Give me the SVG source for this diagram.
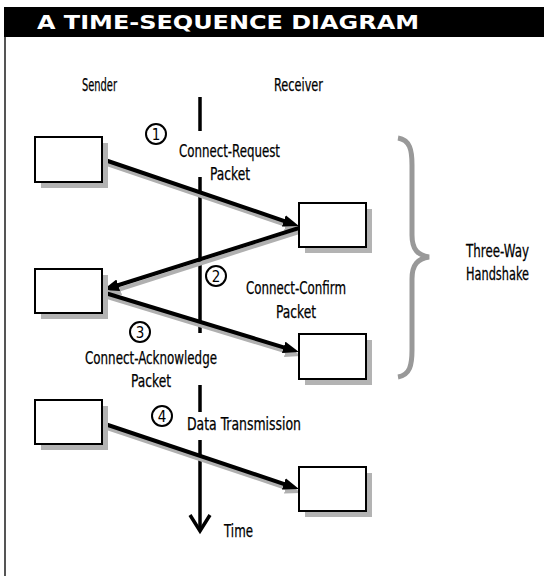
<svg xmlns="http://www.w3.org/2000/svg" width="544" height="576" viewBox="0 0 544 576">
<style>
.t{font-family:"DejaVu Sans Condensed","DejaVu Sans","Liberation Sans",sans-serif;font-stretch:condensed;font-size:17px;fill:#000;stroke:#000;stroke-width:0.25}
.d{font-family:"DejaVu Sans Condensed","DejaVu Sans","Liberation Sans",sans-serif;font-size:15px;fill:#000;text-anchor:middle}
.box{fill:#fff;stroke:#000;stroke-width:2}
.sh{fill:#b3b3b3}
.ln{stroke:#000;stroke-width:4;fill:none}
.lns{stroke:#b0b0b0;stroke-width:4;fill:none}
.num{fill:#fff;stroke:#000;stroke-width:2}
.tl{stroke:#000;stroke-width:3.5;fill:none}
</style>
<defs>
<marker id="ah" viewBox="0 0 16 12" markerWidth="16" markerHeight="12" markerUnits="userSpaceOnUse" refX="6" refY="6" orient="auto"><path d="M0,0 L16,6 L0,12 z" fill="#000"/></marker>
<marker id="ahs" viewBox="0 0 16 12" markerWidth="16" markerHeight="12" markerUnits="userSpaceOnUse" refX="6" refY="6" orient="auto"><path d="M0,0 L16,6 L0,12 z" fill="#b0b0b0"/></marker>
</defs>
<rect x="0" y="0" width="544" height="576" fill="#fff"/>
<g id="header">
<rect x="4" y="7" width="540" height="30" fill="#000"/>
<line x1="5" y1="37" x2="5" y2="576" stroke="#555" stroke-width="2"/>
<text x="37" y="29" font-family="'DejaVu Sans','Liberation Sans',sans-serif" font-weight="bold" font-size="19" fill="#fff" textLength="382" lengthAdjust="spacingAndGlyphs">A TIME-SEQUENCE DIAGRAM</text>
</g>
<g id="labels">
<text class="t" x="82" y="91" textLength="35" lengthAdjust="spacingAndGlyphs">Sender</text>
<text class="t" x="274" y="91" textLength="49" lengthAdjust="spacingAndGlyphs">Receiver</text>
</g>
<g id="timeline">
<line class="tl" x1="200" y1="97" x2="200" y2="131"/>
<line class="tl" x1="200" y1="177" x2="200" y2="333"/>
<line class="tl" x1="200" y1="385" x2="200" y2="412"/>
<line class="tl" x1="200" y1="440" x2="200" y2="531"/>
<polyline class="tl" points="190,515 200,531 210,515"/>
<text class="t" x="224" y="537" textLength="29" lengthAdjust="spacingAndGlyphs">Time</text>
</g>
<g id="connectors">
<line class="lns" x1="104" y1="163" x2="291.5" y2="226.8" marker-end="url(#ahs)"/>
<line class="ln" x1="102" y1="159" x2="289.5" y2="222.8" marker-end="url(#ah)"/>
<line class="lns" x1="299" y1="232" x2="114.5" y2="291" marker-end="url(#ahs)"/>
<line class="ln" x1="299" y1="228" x2="112.5" y2="287" marker-end="url(#ah)"/>
<line class="lns" x1="104" y1="296" x2="291.4" y2="353.1" marker-end="url(#ahs)"/>
<line class="ln" x1="102" y1="292" x2="289.4" y2="349.1" marker-end="url(#ah)"/>
<line class="lns" x1="104" y1="427" x2="291.5" y2="489.8" marker-end="url(#ahs)"/>
<line class="ln" x1="102" y1="423" x2="289.5" y2="485.8" marker-end="url(#ah)"/>
</g>
<g id="sender1"><rect class="sh" x="41" y="143" width="67" height="45"/><rect class="box" x="35" y="137" width="67" height="45"/></g>
<g id="receiver1"><rect class="sh" x="305" y="209" width="67" height="44"/><rect class="box" x="299" y="203" width="67" height="44"/></g>
<g id="sender2"><rect class="sh" x="41" y="275" width="67" height="44"/><rect class="box" x="35" y="269" width="67" height="44"/></g>
<g id="receiver2"><rect class="sh" x="305" y="340" width="67" height="45"/><rect class="box" x="299" y="334" width="67" height="45"/></g>
<g id="sender3"><rect class="sh" x="41" y="406" width="67" height="44"/><rect class="box" x="35" y="400" width="67" height="44"/></g>
<g id="receiver3"><rect class="sh" x="305" y="473" width="67" height="44"/><rect class="box" x="299" y="467" width="67" height="44"/></g>
<g id="step1">
<circle class="num" cx="156" cy="134" r="10"/><text class="d" x="156" y="139.5">1</text>
<text class="t" x="179" y="157" textLength="101" lengthAdjust="spacingAndGlyphs">Connect-Request</text>
<text class="t" x="210" y="180" textLength="40" lengthAdjust="spacingAndGlyphs">Packet</text>
</g>
<g id="step2">
<circle class="num" cx="216" cy="276" r="10"/><text class="d" x="216" y="281.5">2</text>
<text class="t" x="246" y="294" textLength="100" lengthAdjust="spacingAndGlyphs">Connect-Confirm</text>
<text class="t" x="276" y="318" textLength="40" lengthAdjust="spacingAndGlyphs">Packet</text>
</g>
<g id="step3">
<circle class="num" cx="140" cy="332" r="10"/><text class="d" x="140" y="337.5">3</text>
<text class="t" x="85" y="364" textLength="132" lengthAdjust="spacingAndGlyphs">Connect-Acknowledge</text>
<text class="t" x="131" y="387" textLength="40" lengthAdjust="spacingAndGlyphs">Packet</text>
</g>
<g id="step4">
<circle class="num" cx="162" cy="416" r="10"/><text class="d" x="162" y="421.5">4</text>
<text class="t" x="187" y="430" textLength="114" lengthAdjust="spacingAndGlyphs">Data  Transmission</text>
</g>
<g id="handshake">
<path d="M398,138 C410,140 412,150 412,165 L412,235 C412,250 418,255 429,257 C418,259 412,264 412,279 L412,350 C412,365 410,375 398,377" fill="none" stroke="#999" stroke-width="5"/>
<text class="t" transform="translate(466,257) scale(0.8,1)" x="0" y="0" textLength="78.75" lengthAdjust="spacingAndGlyphs">Three-Way</text>
<text class="t" transform="translate(466,280) scale(0.8,1)" x="0" y="0" textLength="78.75" lengthAdjust="spacingAndGlyphs">Handshake</text>
</g>
</svg>
